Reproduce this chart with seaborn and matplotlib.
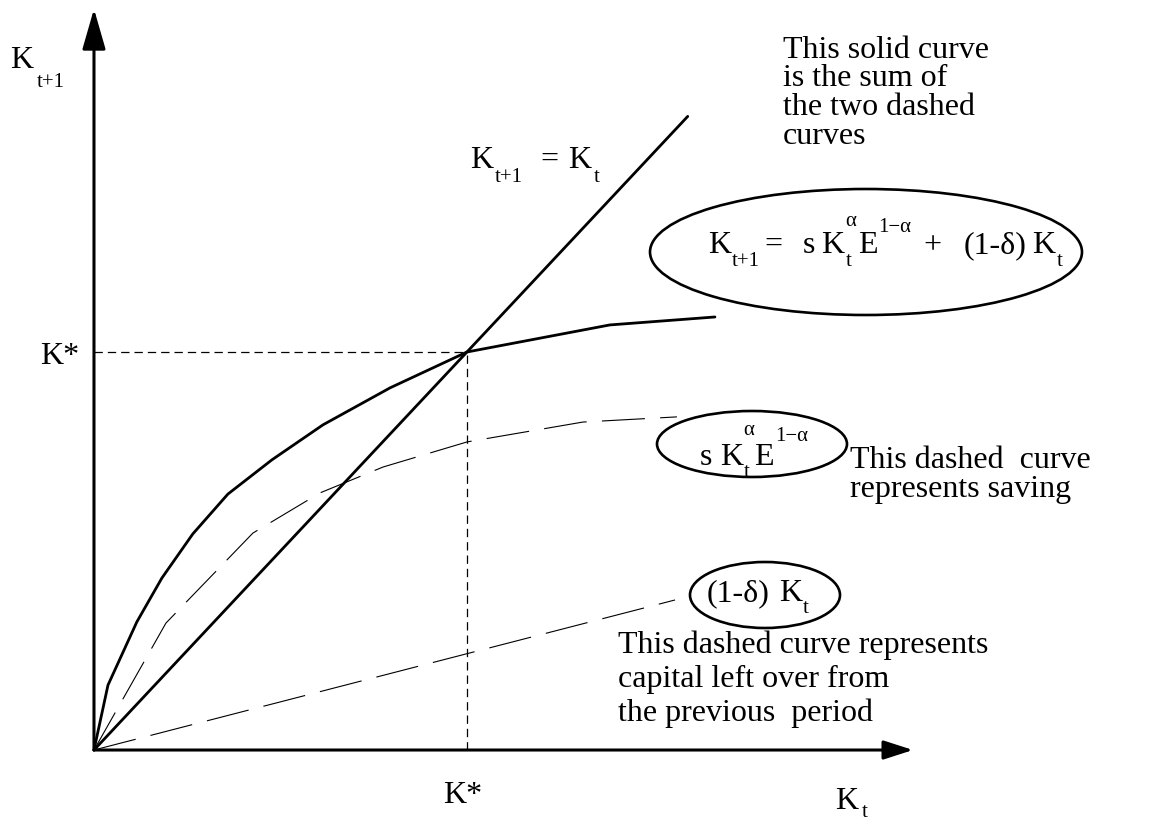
import matplotlib
matplotlib.use("Agg")
import matplotlib.pyplot as plt
import pandas as pd
import seaborn as sns
from matplotlib.patches import Ellipse

# Solow capital accumulation, capital measured in units of the steady state K*
k_sum = [0.0, 0.0375, 0.115, 0.182, 0.265, 0.359, 0.477, 0.614, 0.794, 1.0, 1.383, 1.665]
next_sum = [0.0, 0.163, 0.322, 0.432, 0.543, 0.643, 0.729, 0.817, 0.910, 1.0, 1.068, 1.088]

k_saving = [0.0, 0.193, 0.426, 0.606, 0.775, 1.0, 1.311, 1.563]
saving = [0.0, 0.319, 0.545, 0.646, 0.711, 0.774, 0.824, 0.837]

k_left = [0.0, 1.558]
left_over = [0.0, 0.377]

k_diag = [0.0, 1.592]
diag = [0.0, 1.592]

k_star = 1.0
x_axis_end = 2.196
y_axis_end = 1.862

sns.set_theme(style="white")
plt.rcParams["lines.scale_dashes"] = False
plt.rcParams["font.family"] = ["Liberation Serif", "DejaVu Serif"]
plt.rcParams["text.color"] = "black"

W, H = 1164, 825
fig = plt.figure(figsize=(W / 100, H / 100), dpi=100)
ax = fig.add_axes([0, 0, 1, 1])
ax.set_xlim(-0.252, 2.869)
ax.set_ylim(-0.1884, 1.8844)
ax.axis("off")

LONG_DASH = (0, (31, 11))
SHORT_DASH = (0, (6, 3.6))

curves = pd.DataFrame({"k": k_sum, "v": next_sum})
sns.lineplot(data=curves, x="k", y="v", sort=False, estimator=None,
             color="black", lw=2.0, ax=ax)
sns.lineplot(x=k_diag, y=diag, sort=False, estimator=None,
             color="black", lw=2.0, ax=ax)
sns.lineplot(x=k_saving, y=saving, sort=False, estimator=None,
             color="black", lw=0.8, linestyle=LONG_DASH, ax=ax)
sns.lineplot(x=k_left, y=left_over, sort=False, estimator=None,
             color="black", lw=0.8, linestyle=LONG_DASH, ax=ax)

# guide lines to the steady state
ax.plot([0, k_star], [k_star, k_star], color="black", lw=0.9, linestyle=SHORT_DASH)
ax.plot([k_star, k_star], [0, k_star], color="black", lw=0.9, linestyle=SHORT_DASH)

# axes with arrow heads
ax.annotate("", xy=(0, y_axis_end), xytext=(0, 0),
            arrowprops=dict(arrowstyle="-|>,head_length=25,head_width=7.2",
                            mutation_scale=1, lw=2.2, color="black",
                            shrinkA=0, shrinkB=0))
ax.annotate("", xy=(x_axis_end, 0), xytext=(0, 0),
            arrowprops=dict(arrowstyle="-|>,head_length=18,head_width=5.8",
                            mutation_scale=1, lw=2.2, color="black",
                            shrinkA=0, shrinkB=0))

BIG, SMALL = 23, 15
renderer = fig.canvas.get_renderer()


def put(x, y, s, size=BIG):
    """Text with its left baseline at image pixel (x, y); returns its width."""
    t = fig.text(x / W, 1 - y / H, s, fontsize=size, ha="left", va="baseline",
                 color="black")
    return t.get_window_extent(renderer).width


def rich(x, y, parts, drop=13, rise=21):
    """Pieces of a formula set one after another with sub/superscripts."""
    cx = x
    for kind, s, gap in parts:
        cx += gap
        if kind == "n":
            cx += put(cx, y, s, BIG)
        elif kind == "sub":
            cx += put(cx, y + drop, s, SMALL)
        elif kind == "sup":
            cx += put(cx, y - rise, s, SMALL)
        else:
            lo, hi = s
            cx += max(put(cx, y + drop, lo, SMALL),
                      put(cx, y - rise - 6, hi, SMALL))


def oval(cx, cy, w, h, lw=1.9):
    fig.add_artist(Ellipse((cx / W, 1 - cy / H), w / W, h / H,
                           transform=fig.transFigure, fill=False,
                           edgecolor="black", lw=lw))


# axis labels
rich(10, 68, [("n", "K", 0), ("sub", "t+1", 4)], drop=19)
put(40, 364, "K*")
put(443, 803, "K*")
rich(835, 809, [("n", "K", 0), ("sub", "t", 4)], drop=8)

# 45 degree line label
rich(470, 168, [("n", "K", 0), ("sub", "t+1", 2), ("n", "=", 17),
                ("n", "K", 10), ("sub", "t", 2)], drop=14)

# accumulation equation
oval(866, 252, 432, 126)
rich(708, 253, [("n", "K", 0), ("sub", "t+1", 1), ("n", "=", 4), ("n", "s", 20),
                ("n", "K", 7), ("stack", ("t", "α"), 1), ("n", "E", 1),
                ("sup", "1−α", 1), ("n", "+", 12), ("n", "(1-δ)", 22),
                ("n", "K", 6), ("sub", "t", 1)], drop=13, rise=21)

# saving term
oval(752, 444, 190, 66)
rich(700, 465, [("n", "s", 0), ("n", "K", 8), ("stack", ("t", "α"), 0),
                ("n", "E", 0), ("sup", "1−α", 1)], drop=12, rise=24)

# undepreciated capital term
oval(765, 595, 150, 66)
rich(707, 601, [("n", "(1-δ)", 0), ("n", "K", 9), ("sub", "t", 1)], drop=12)

# explanatory notes
for i, line in enumerate(["This solid curve", "is the sum of", "the two dashed", "curves"]):
    put(783, 58 + 28.5 * i, line)
for i, line in enumerate(["This dashed  curve", "represents saving"]):
    put(850, 468 + 29 * i, line)
for i, line in enumerate(["This dashed curve represents", "capital left over from",
                          "the previous  period"]):
    put(618, 653 + 34 * i, line)

fig.savefig("out.png", dpi=100, facecolor="white")
